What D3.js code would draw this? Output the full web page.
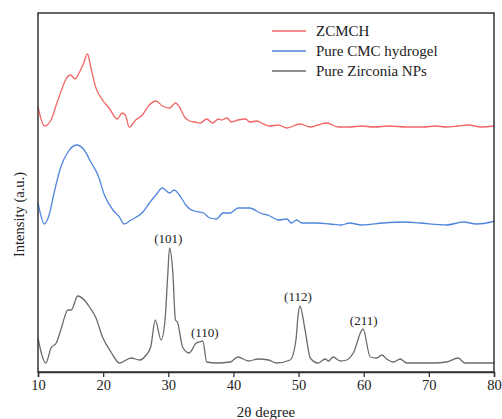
<!DOCTYPE html>
<html>
<head>
<meta charset="utf-8">
<script src="https://cdn.jsdelivr.net/npm/d3@7"></script>
<style>
  body { margin: 0; background: #fff; }
  text { font-family: "Liberation Serif", "Times New Roman", serif; fill: #222; }
</style>
</head>
<body>
<svg id="chart"></svg>
<script>
var svgWidth = 502, svgHeight = 419;
var margin = {top: 13, right: 8, bottom: 47, left: 38};

// 2theta / intensity (a.u.), curves already offset
var zcmchTheta = [10, 11.0, 12.0, 12.8, 13.5, 14.3, 15.0, 15.7, 16.3, 16.9, 17.6, 18.1, 18.9, 19.9, 20.9, 22.2, 22.9, 23.4, 24.0, 25.0, 26.0, 27.1, 28.1, 29.1, 30.2, 31.1, 31.7, 32.5, 33.3, 34.1, 34.9, 35.9, 36.8, 37.7, 38.2, 39.0, 39.7, 40.7, 41.9, 42.5, 43.6, 44.3, 45.6, 46.9, 48.2, 50.2, 51.8, 53.0, 54.3, 56.1, 57.8, 59.7, 61.5, 64.0, 66.5, 69.2, 71.0, 72.7, 74.5, 76.1, 77.9, 80];
var zcmchInt   = [265, 246, 252, 267, 280, 293, 297, 293, 299, 307, 318, 305, 284, 272, 264, 253, 259, 257, 245, 252, 257, 267, 271, 266, 264, 269, 265, 255, 251, 250, 249, 253, 249, 253, 252, 254, 250, 252, 253, 250, 251, 249, 246, 247, 244, 248, 245, 247, 249, 245, 245, 246, 245, 246, 245, 245, 246, 245, 246, 247, 245, 246];

var cmcTheta = [10, 11.0, 11.7, 12.5, 13.5, 14.6, 15.9, 17.1, 18.1, 19.2, 20.2, 21.5, 22.5, 23.2, 24.3, 26.1, 27.1, 28.1, 29.1, 30.2, 30.9, 31.7, 32.7, 33.3, 34.0, 35.4, 36.4, 37.4, 38.4, 39.5, 40.7, 42.5, 44.1, 45.6, 46.9, 48.2, 48.9, 49.7, 50.5, 52.8, 54.8, 56.6, 57.8, 59.7, 63.0, 66.3, 68.6, 72.7, 75.3, 77.3, 79.6, 80];
var cmcInt   = [169, 148, 157, 180, 205, 220, 227, 222, 210, 197, 177, 162, 155, 148, 152, 160, 169, 177, 184, 179, 182, 177, 167, 163, 161, 159, 154, 153, 159, 159, 164, 164, 159, 156, 152, 153, 149, 152, 149, 149, 148, 147, 149, 147, 149, 150, 149, 147, 150, 148, 150, 151];

var zrTheta = [10, 11.2, 12.0, 12.8, 13.5, 14.6, 15.1, 16.1, 17.1, 17.9, 18.9, 19.9, 21.2, 22.5, 24.3, 25.6, 26.6, 27.3, 28.0, 28.9, 29.5, 29.9, 30.2, 30.7, 31.1, 31.4, 32.2, 33.2, 34.3, 34.8, 35.3, 35.9, 37.4, 39.5, 40.7, 42.3, 43.8, 45.4, 46.6, 48.7, 49.6, 49.9, 50.2, 51.0, 51.8, 53.0, 54.1, 54.6, 55.3, 56.4, 57.4, 58.4, 59.9, 61.0, 62.0, 62.8, 63.5, 64.6, 65.6, 66.6, 70.7, 72.7, 74.5, 75.5, 79.8, 80];
var zrInt   = [34, 9, 24, 29, 42, 62, 62, 76, 72, 65, 54, 35, 20, 9, 14, 12, 17, 25, 52, 32, 52, 95, 124, 99, 52, 50, 25, 19, 29, 30, 31, 10, 9, 10, 15, 11, 13, 12, 9, 12, 32, 55, 66, 42, 14, 9, 13, 11, 15, 11, 12, 19, 43, 15, 14, 17, 13, 10, 13, 9, 9, 10, 14, 9, 9, 9];

var seriesNames = ["ZCMCH", "Pure CMC hydrogel", "Pure Zirconia NPs"];
var seriesColors = ["#f26666", "#4f86dc", "#6b6b6b"];

// peak labels (hkl) placed at 2theta / intensity of the text baseline
var peakLabels = ["(101)", "(110)", "(112)", "(211)"];
var peakTheta  = [30.0, 35.6, 49.9, 60.0];
var peakInt    = [129, 35, 71, 47];

var xTicks = [10, 20, 30, 40, 50, 60, 70, 80];

var w = svgWidth - margin.left - margin.right,
    h = svgHeight - margin.top - margin.bottom;

var svg = d3.select("#chart")
    .attr("width", svgWidth)
    .attr("height", svgHeight);

var x = d3.scaleLinear().domain([10, 80]).range([margin.left, margin.left + w]);
var y = d3.scaleLinear().domain([0, 359]).range([margin.top + h, margin.top]);

var data = [
  d3.zip(zcmchTheta, zcmchInt),
  d3.zip(cmcTheta, cmcInt),
  d3.zip(zrTheta, zrInt)
];

var line = d3.line()
    .x(d => x(d[0]))
    .y(d => y(d[1]))
    .curve(d3.curveMonotoneX);

svg.append("g")
  .selectAll("path")
  .data(data)
  .enter()
  .append("path")
    .attr("d", line)
    .attr("fill", "none")
    .attr("stroke", (d, i) => seriesColors[i])
    .attr("stroke-width", 1.3)
    .attr("stroke-linejoin", "round");

// frame
svg.append("rect")
    .attr("x", margin.left)
    .attr("y", margin.top)
    .attr("width", w)
    .attr("height", h)
    .attr("fill", "none")
    .attr("stroke", "#333")
    .attr("stroke-width", 1.5);

var xAxis = svg.append("g")
    .attr("transform", "translate(0," + (margin.top + h) + ")")
    .call(d3.axisBottom(x).tickValues(xTicks).tickSize(5).tickPadding(3));
xAxis.attr("font-family", null).attr("font-size", null);
xAxis.select(".domain").attr("stroke", "#333").attr("stroke-width", 1.5);
xAxis.selectAll(".tick line").attr("stroke", "#333").attr("stroke-width", 1.3);
xAxis.selectAll(".tick text")
    .style("font-size", "14.5px")
    .style("fill", "#222");

svg.append("text")
    .attr("x", margin.left + w / 2)
    .attr("y", 417)
    .attr("text-anchor", "middle")
    .style("font-size", "15px")
    .text("2θ degree");

svg.append("text")
    .attr("transform", "translate(24," + (margin.top + h / 2 + 22) + ") rotate(-90)")
    .attr("text-anchor", "middle")
    .style("font-size", "14.5px")
    .text("Intensity (a.u.)");

svg.append("g")
  .selectAll("text")
  .data(peakLabels)
  .enter()
  .append("text")
    .attr("x", (d, i) => x(peakTheta[i]))
    .attr("y", (d, i) => y(peakInt[i]))
    .attr("text-anchor", "middle")
    .style("font-size", "13px")
    .text(d => d);

// legend
var legend = svg.append("g")
  .selectAll("g")
  .data(seriesNames)
  .enter()
  .append("g")
    .attr("transform", (d, i) => "translate(272," + (31 + i * 20) + ")");

legend.append("line")
    .attr("x1", 0).attr("x2", 34)
    .attr("stroke", (d, i) => seriesColors[i])
    .attr("stroke-width", 1.5);

legend.append("text")
    .attr("x", 44)
    .attr("y", 5)
    .style("font-size", "15px")
    .text(d => d);
</script>
</body>
</html>
